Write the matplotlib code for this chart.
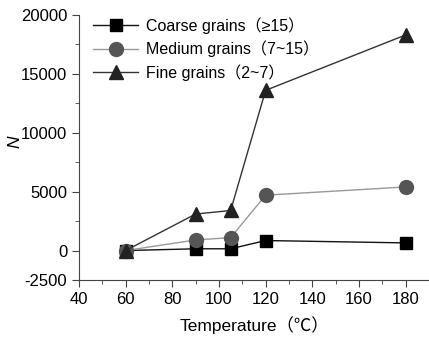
import numpy as np
import matplotlib
matplotlib.use("Agg")
import matplotlib.pyplot as plt
from matplotlib.ticker import MultipleLocator

plt.rcParams['font.family'] = ['Liberation Sans', 'Noto Sans CJK SC', 'DejaVu Sans']
plt.rcParams['axes.unicode_minus'] = False

# data
temperature = [60, 90, 105, 120, 180]
coarse = [0, 150, 150, 850, 650]
medium = [0, 900, 1100, 4700, 5400]
fine = [0, 3100, 3400, 13600, 18300]

fig = plt.figure(figsize=(4.29, 3.39), dpi=100)
ax = fig.add_axes([0.184, 0.174, 0.816, 0.782])

ax.plot(temperature, coarse, color='#111111', lw=1.0, marker='s', ms=9,
        mfc='black', mec='black', label='Coarse grains（≥15）')
ax.plot(temperature, medium, color='#999999', lw=1.0, marker='o', ms=10,
        mfc='#555555', mec='#555555', label='Medium grains（7~15）')
ax.plot(temperature, fine, color='#333333', lw=1.0, marker='^', ms=10,
        mfc='#222222', mec='#222222', label='Fine grains（2~7）')

ax.set_xlim(40, 190)
ax.set_ylim(-2500, 20000)
ax.set_xticks(np.arange(40, 181, 20))
ax.set_yticks([-2500, 0, 5000, 10000, 15000, 20000])
ax.xaxis.set_minor_locator(MultipleLocator(10))
ax.yaxis.set_minor_locator(MultipleLocator(2500))
ax.tick_params(which='both', direction='out', labelsize=12, color='#444444')
ax.tick_params(which='major', length=5)
ax.tick_params(which='minor', length=3)

ax.spines['top'].set_visible(False)
ax.spines['right'].set_visible(False)
ax.spines['left'].set_color('#444444')
ax.spines['bottom'].set_color('#444444')

ax.set_xlabel('Temperature（℃）', fontsize=12.5, labelpad=7)
ax.set_ylabel('N', fontsize=12.5, style='italic', va='center')
ax.yaxis.set_label_coords(-0.183, 0.52)

ax.legend(loc='upper left', bbox_to_anchor=(0.0, 1.045), frameon=False,
          fontsize=11.5, handlelength=2.8, labelspacing=0.42, handletextpad=0.5)

fig.savefig('out.png', dpi=100)
